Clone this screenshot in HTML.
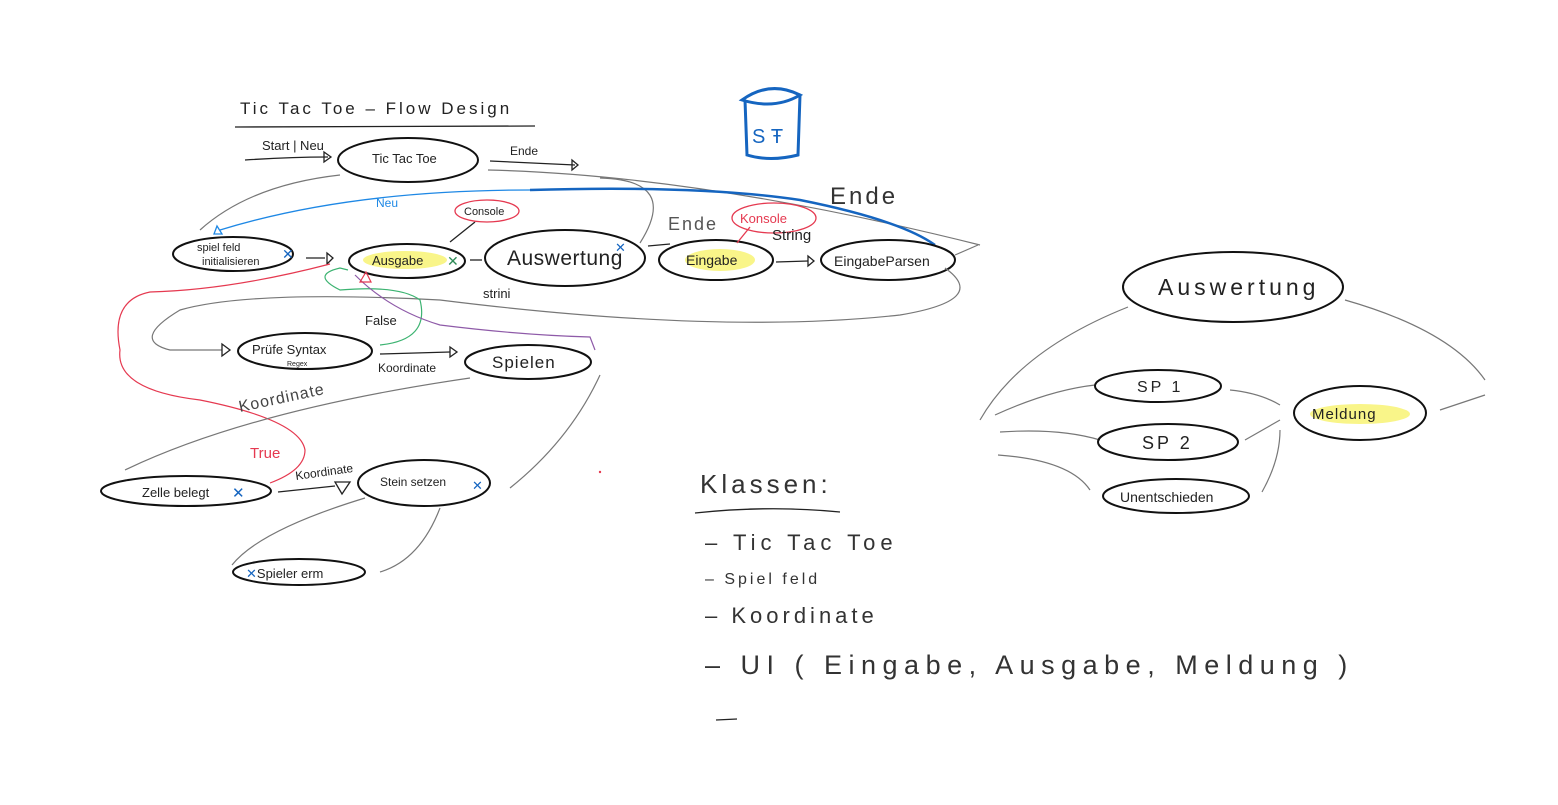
<!DOCTYPE html>
<html><head><meta charset="utf-8"><style>
html,body{margin:0;padding:0;background:#fff;width:1558px;height:805px;overflow:hidden}
svg{display:block}
text{font-family:"Liberation Sans",sans-serif;fill:#222}
.e{fill:none;stroke:#111;stroke-width:2}
.g{fill:none;stroke:#777;stroke-width:1.2}
.k{fill:none;stroke:#222;stroke-width:1.3}
</style></head><body>
<svg width="1558" height="805" viewBox="0 0 1558 805">
<text x="240" y="114" font-size="17" letter-spacing="3">Tic  Tac  Toe  –  Flow Design</text>
<path class="k" d="M235 127 L535 126"/>
<text x="262" y="150" font-size="13">Start | Neu</text>
<path class="k" d="M245 160 Q290 157 328 157"/><path class="k" d="M324 152 L331 157 L324 162 Z"/>
<ellipse class="e" cx="408" cy="160" rx="70" ry="22"/>
<text x="372" y="163" font-size="13">Tic Tac Toe</text>
<text x="510" y="155" font-size="12">Ende</text>
<path class="k" d="M490 161 L575 165"/><path class="k" d="M572 160 L578 165 L572 170 Z"/>
<g fill="none" stroke="#1565c0" stroke-width="3">
<path d="M742 100 Q770 80 800 95 Q775 110 742 100 Z"/>
<path d="M745 100 L747 155 Q770 162 798 155 L800 95"/>
</g>
<text x="752" y="143" font-size="20" style="fill:#1565c0">S Ŧ</text>
<text x="830" y="204" font-size="24" letter-spacing="3" style="fill:#333">Ende</text>
<path class="g" d="M488 170 Q700 175 980 245"/>
<path class="g" d="M600 178 Q680 180 640 243"/>
<path class="g" d="M200 230 Q250 185 340 175"/>
<path fill="none" stroke="#1565c0" stroke-width="2.5" d="M530 190 Q700 185 800 200 Q900 220 935 245"/>
<path fill="none" stroke="#1e88e5" stroke-width="1.3" d="M530 190 Q350 190 220 230"/>
<path fill="none" stroke="#1e88e5" stroke-width="1.3" d="M217 226 L222 234 L214 234 Z"/>
<text x="376" y="207" font-size="12" style="fill:#1e88e5">Neu</text>
<ellipse class="e" cx="233" cy="254" rx="60" ry="17"/>
<text x="197" y="251" font-size="11">spiel feld</text>
<text x="202" y="265" font-size="11">initialisieren</text>
<text x="282" y="259" font-size="14" style="fill:#1565c0">✕</text>
<path class="k" d="M306 258 L325 258"/><path class="k" d="M327 253 L333 258 L327 264 Z"/>
<ellipse cx="405" cy="260" rx="42" ry="9" fill="#f7f36b" opacity=".8"/>
<ellipse class="e" cx="407" cy="261" rx="58" ry="17"/>
<text x="372" y="265" font-size="13">Ausgabe</text>
<text x="447" y="266" font-size="14" style="fill:#2e8b57">✕</text>
<path class="k" d="M450 242 L475 222"/>
<ellipse cx="487" cy="211" rx="32" ry="11" fill="none" stroke="#e53950" stroke-width="1.3"/>
<text x="464" y="215" font-size="11">Console</text>
<path class="k" d="M470 260 L482 260"/>
<ellipse class="e" cx="565" cy="258" rx="80" ry="28"/>
<text x="507" y="265" font-size="21" letter-spacing="0.5">Auswertung</text>
<text x="615" y="252" font-size="13" style="fill:#1565c0">✕</text>
<path class="k" d="M648 246 L670 244"/>
<text x="668" y="230" font-size="18" letter-spacing="2" style="fill:#555">Ende</text>
<ellipse cx="720" cy="260" rx="35" ry="11" fill="#f7f36b" opacity=".8"/>
<ellipse class="e" cx="716" cy="260" rx="57" ry="20"/>
<text x="686" y="265" font-size="14">Eingabe</text>
<ellipse cx="774" cy="218" rx="42" ry="15" fill="none" stroke="#e53950" stroke-width="1.3"/>
<text x="740" y="223" font-size="13" style="fill:#e53950">Konsole</text>
<path fill="none" stroke="#e53950" stroke-width="1.3" d="M737 243 L750 227"/>
<text x="772" y="240" font-size="15">String</text>
<path class="k" d="M776 262 L808 261"/><path class="k" d="M808 256 L814 261 L808 266 Z"/>
<ellipse class="e" cx="888" cy="260" rx="67" ry="20"/>
<text x="834" y="266" font-size="14">EingabeParsen</text>
<path class="g" d="M955 255 L978 245"/>
<path class="g" d="M945 268 Q990 300 900 315 Q720 335 440 300"/>
<path class="g" d="M440 300 Q250 290 180 310 Q130 340 170 350 L222 350"/>
<path class="k" d="M222 344 L230 350 L222 356 Z"/>
<text x="483" y="298" font-size="13">strini</text>
<ellipse class="e" cx="305" cy="351" rx="67" ry="18"/>
<text x="252" y="354" font-size="13">Prüfe Syntax</text>
<text x="287" y="366" font-size="7">Regex</text>
<path fill="none" stroke="#3cb371" stroke-width="1.2" d="M380 345 Q430 340 420 300 Q400 285 340 290 Q310 275 340 268 L348 270"/>
<text x="365" y="325" font-size="13">False</text>
<path class="k" d="M380 354 L450 352"/><path class="k" d="M450 347 L457 352 L450 357 Z"/>
<text x="378" y="372" font-size="12">Koordinate</text>
<ellipse class="e" cx="528" cy="362" rx="63" ry="17"/>
<text x="492" y="368" font-size="17" letter-spacing="1">Spielen</text>
<path fill="none" stroke="#8e5aa8" stroke-width="1.2" d="M355 275 Q390 310 440 325 Q520 335 590 337 L595 350"/>
<path fill="none" stroke="#e53950" stroke-width="1.2" d="M360 282 L366 272 L371 282 Z"/>
<path fill="none" stroke="#e53950" stroke-width="1.2" d="M330 264 Q230 290 150 292 Q110 300 120 350 Q115 390 200 400 Q300 420 305 450 Q305 470 270 483"/>
<text x="250" y="458" font-size="15" style="fill:#e53950">True</text>
<text x="240" y="412" font-size="16" letter-spacing="1" transform="rotate(-12 240 412)" style="fill:#444">Koordinate</text>
<path class="g" d="M125 470 Q250 410 470 378"/>
<path class="g" d="M600 375 Q570 440 510 488"/>
<ellipse class="e" cx="186" cy="491" rx="85" ry="15"/>
<text x="142" y="497" font-size="13">Zelle belegt</text>
<text x="232" y="498" font-size="15" style="fill:#1565c0">✕</text>
<path class="k" d="M278 492 L335 486"/>
<path class="k" d="M335 482 L350 482 L342 494 Z"/>
<text x="296" y="480" font-size="12" transform="rotate(-8 296 480)">Koordinate</text>
<ellipse class="e" cx="424" cy="483" rx="66" ry="23"/>
<text x="380" y="486" font-size="12">Stein setzen</text>
<text x="472" y="490" font-size="13" style="fill:#1565c0">✕</text>
<path class="g" d="M365 498 Q260 530 232 565"/>
<path class="g" d="M440 508 Q420 560 380 572"/>
<ellipse class="e" cx="299" cy="572" rx="66" ry="13"/>
<text x="246" y="578" font-size="13"><tspan style="fill:#1565c0">✕</tspan>Spieler erm</text>
<text x="700" y="493" font-size="26" letter-spacing="4" style="fill:#333">Klassen:</text>
<path class="k" d="M695 513 Q770 505 840 512"/>
<text x="705" y="550" font-size="22" letter-spacing="5" style="fill:#333">–   Tic Tac Toe</text>
<text x="705" y="584" font-size="16" letter-spacing="3" style="fill:#333">–    Spiel feld</text>
<text x="705" y="623" font-size="22" letter-spacing="4" style="fill:#333">–   Koordinate</text>
<text x="705" y="674" font-size="27" letter-spacing="6.5" style="fill:#333">–  UI ( Eingabe, Ausgabe, Meldung )</text>
<path class="k" d="M716 720 L737 719"/>
<ellipse class="e" cx="1233" cy="287" rx="110" ry="35"/>
<text x="1158" y="295" font-size="23" letter-spacing="4">Auswertung</text>
<path class="g" d="M1128 307 Q1020 350 980 420"/>
<path class="g" d="M1345 300 Q1450 330 1485 380"/>
<path class="g" d="M1440 410 L1485 395"/>
<path class="g" d="M995 415 Q1050 390 1095 385"/>
<path class="g" d="M1000 432 Q1060 428 1100 440"/>
<path class="g" d="M998 455 Q1070 460 1090 490"/>
<ellipse class="e" cx="1158" cy="386" rx="63" ry="16"/>
<text x="1137" y="392" font-size="16" letter-spacing="3">SP 1</text>
<ellipse class="e" cx="1168" cy="442" rx="70" ry="18"/>
<text x="1142" y="449" font-size="18" letter-spacing="3">SP 2</text>
<ellipse class="e" cx="1176" cy="496" rx="73" ry="17"/>
<text x="1120" y="502" font-size="14">Unentschieden</text>
<path class="g" d="M1230 390 Q1260 393 1280 405"/>
<path class="g" d="M1245 440 L1280 420"/>
<path class="g" d="M1262 492 Q1280 460 1280 430"/>
<ellipse cx="1360" cy="414" rx="50" ry="10" fill="#f7f36b" opacity=".8"/>
<ellipse class="e" cx="1360" cy="413" rx="66" ry="27"/>
<text x="1312" y="419" font-size="15" letter-spacing="1">Meldung</text>
<circle cx="600" cy="472" r="1.2" fill="#e53950"/>
</svg>
</body></html>
